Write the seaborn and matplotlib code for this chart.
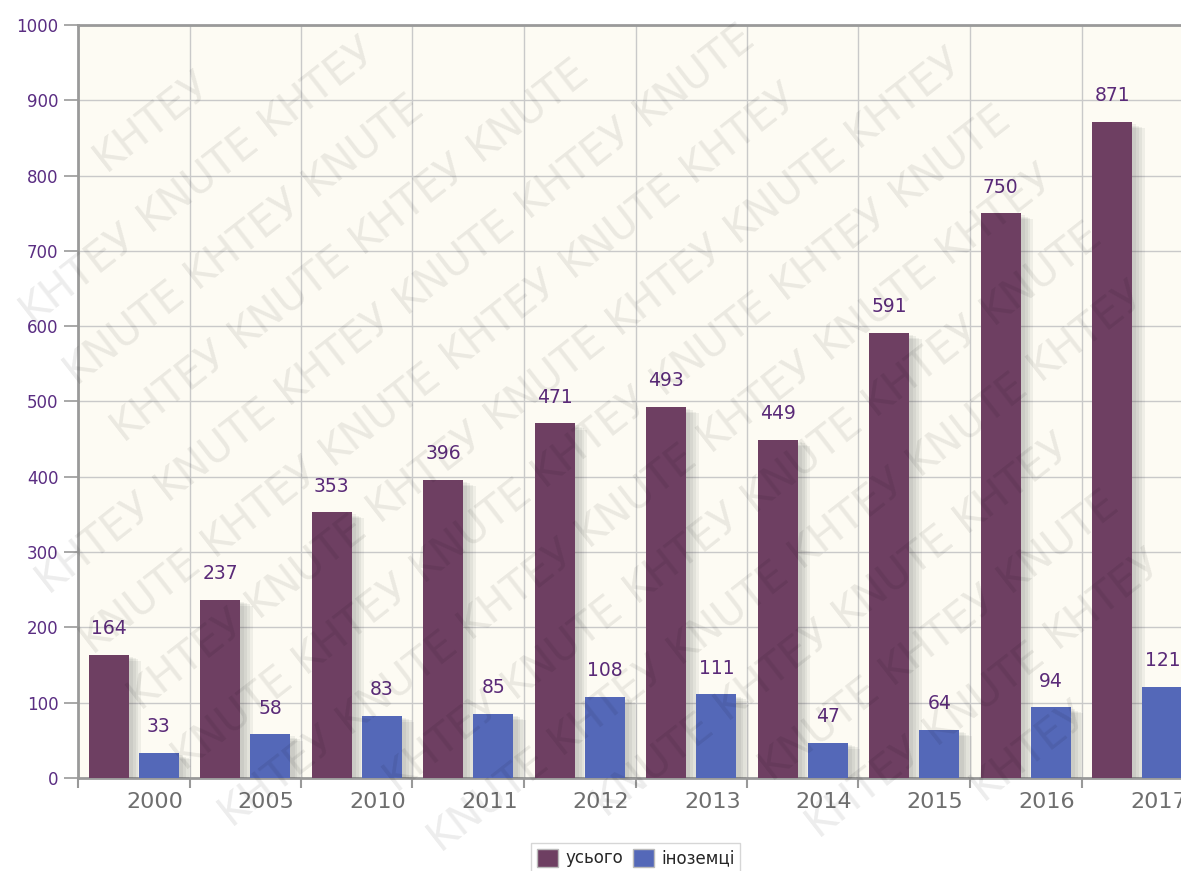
import matplotlib
matplotlib.use("Agg")
import matplotlib.pyplot as plt
import matplotlib.patheffects as pe
import matplotlib.transforms as mtransforms
import seaborn as sns
import pandas as pd
import numpy as np

years = ["2000", "2005", "2010", "2011", "2012", "2013", "2014", "2015", "2016", "2017"]
total = [164, 237, 353, 396, 471, 493, 449, 591, 750, 871]
foreign = [33, 58, 83, 85, 108, 111, 47, 64, 94, 121]
series_names = ["усього", "іноземці"]
colors = ["#6e3f62", "#5468b8"]
y_ticks = [0, 100, 200, 300, 400, 500, 600, 700, 800, 900, 1000]
watermark_words = ["KHTEУ", "KNUTE"]

df = pd.DataFrame({
    "year": years * 2,
    "value": total + foreign,
    "series": [series_names[0]] * len(years) + [series_names[1]] * len(years),
})

sns.set_theme(style="white")
plt.rcParams["font.family"] = ["DejaVu Sans"]

W, H = 1181, 871
fig = plt.figure(figsize=(W / 100, H / 100), dpi=100)
fig.patch.set_facecolor("white")
ax = fig.add_axes([78 / W, 1 - 778 / H, (1193 - 78) / W, (778 - 25) / H])
ax.set_facecolor("#fdfbf3")

sns.barplot(data=df, x="year", y="value", hue="series", order=years,
            hue_order=series_names, palette=colors, width=0.9, gap=0.2,
            saturation=1, ax=ax, legend=True, zorder=3)

shadow = [pe.SimplePatchShadow(offset=(o, -o / 2), shadow_rgbFace="#444444", alpha=0.07)
          for o in (9, 7, 5, 3)] + [pe.Normal()]
for p in ax.patches:
    p.set_path_effects(shadow)
    p.set_linewidth(0)

for cont in ax.containers:
    ax.bar_label(cont, labels=[f"{int(v)}" for v in cont.datavalues], padding=12,
                 color="#5a2a78", fontsize=13.5, zorder=5)

ax.set_ylim(0, 1000)
ax.set_xlim(-0.5, len(years) - 0.5)
ax.set_yticks(y_ticks)
ax.set_yticklabels([str(t) for t in y_ticks], color="#5a2d82", fontsize=12)
ax.tick_params(axis="y", which="major", left=True, length=10, width=1.2,
               color="#999999", pad=4)

ax.set_xticks(range(len(years)))
ax.set_xticklabels(years, color="#6e6e6e", fontsize=16)
ax.tick_params(axis="x", which="major", bottom=False, length=0, pad=10)
offset = mtransforms.ScaledTranslation(21 / 100, 0, fig.dpi_scale_trans)
for lab in ax.get_xticklabels():
    lab.set_transform(lab.get_transform() + offset)
ax.set_xticks(np.arange(-0.5, len(years), 1.0), minor=True)
ax.tick_params(axis="x", which="minor", bottom=True, length=7, width=1.5,
               color="#999999")

ax.grid(axis="y", which="major", color="#c9c9c9", linewidth=1, zorder=0)
ax.grid(axis="x", which="minor", color="#c9c9c9", linewidth=1, zorder=0)
ax.set_axisbelow(True)
ax.set_xlabel("")
ax.set_ylabel("")

for s in ["left", "bottom", "top", "right"]:
    ax.spines[s].set_color("#9a9a9a")
    ax.spines[s].set_linewidth(2)
    ax.spines[s].set_visible(True)

leg = ax.legend(loc="upper center", bbox_to_anchor=(0.5, -0.075), ncol=2,
                frameon=True, fontsize=12, handlelength=1.3, handleheight=1.3,
                handletextpad=0.4, columnspacing=0.6, borderpad=0.35,
                fancybox=False)
leg.get_frame().set_edgecolor("#cccccc")
leg.get_frame().set_linewidth(1)
for h in leg.legend_handles:
    h.set_edgecolor("#bbbbbb")
    h.set_linewidth(1)
    h.set_path_effects([])

# watermark: individual words along diagonal lines, kept fully inside the figure
theta = np.deg2rad(38)
d = np.array([np.cos(theta), np.sin(theta)])
n = np.array([-np.sin(theta), np.cos(theta)])
L, h = 142, 48
hx = 0.5 * L * np.cos(theta) + 0.5 * h * np.sin(theta)
hy = 0.5 * L * np.sin(theta) + 0.5 * h * np.cos(theta)
origin = np.array([W / 2, H / 2])
for k in range(-14, 15):
    for j in range(-12, 13):
        c = origin + k * 74 * n + j * 152 * d
        if c[0] - hx < 2 or c[0] + hx > W - 2 or c[1] - hy < 2 or c[1] + hy > H - 2:
            continue
        fig.text(c[0] / W, c[1] / H, watermark_words[(j + k) % 2], rotation=38,
                 fontsize=30, color="#000000", alpha=0.075, ha="center",
                 va="center", rotation_mode="anchor", zorder=10)

fig.savefig("out.png", dpi=100)
